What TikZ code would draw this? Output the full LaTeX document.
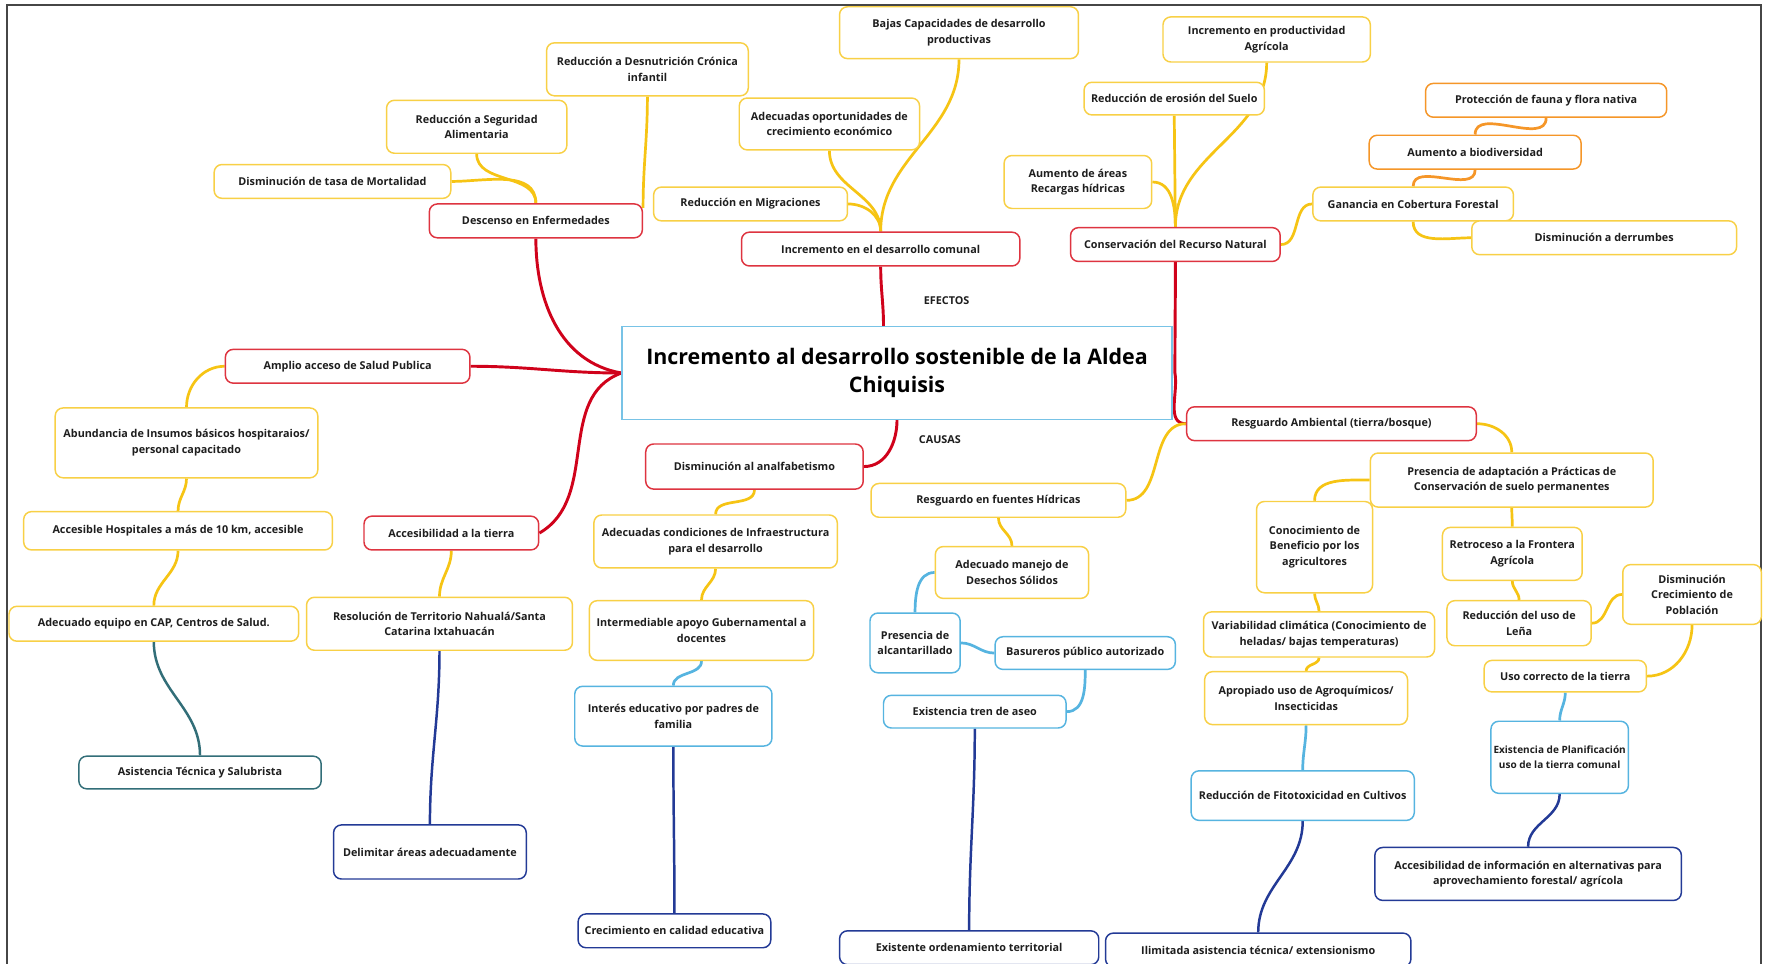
\documentclass[tikz,border=0pt]{standalone}
\usepackage{fontspec}
\setmainfont{Open Sans}
\usetikzlibrary{calc}
\definecolor{redline}{RGB}{208,2,27}
\definecolor{redbox}{RGB}{222,52,64}
\definecolor{yelline}{RGB}{246,196,20}
\definecolor{yelbox}{RGB}{248,208,70}
\definecolor{orgline}{RGB}{245,150,40}
\definecolor{ltblue}{RGB}{86,180,224}
\definecolor{dkblue}{RGB}{35,58,150}
\definecolor{tealc}{RGB}{50,110,120}
\definecolor{titlebd}{RGB}{120,195,230}
\definecolor{ink}{RGB}{30,30,30}
\definecolor{framec}{RGB}{70,70,70}
\pgfdeclarelayer{bg}
\pgfsetlayers{bg,main}
\tikzset{
  box/.style={draw, fill=white, rounded corners=7pt, line width=1.3pt, align=center,
    inner sep=2pt, text=ink, font=\bfseries\fontsize{9.6}{13.8}\selectfont},
  redn/.style={box, draw=redbox},
  yeln/.style={box, draw=yelbox},
  orgn/.style={box, draw=orgline},
  lbn/.style={box, draw=ltblue},
  dbn/.style={box, draw=dkblue},
  tln/.style={box, draw=tealc},
  sz/.style 2 args={minimum width=#1pt, minimum height=#2pt},
  rl/.style={draw=redline, line width=2.6pt},
  yl/.style={draw=yelline, line width=2.4pt},
  ol/.style={draw=orgline, line width=2.4pt},
  bl/.style={draw=ltblue, line width=2.4pt},
  dl/.style={draw=dkblue, line width=2.2pt},
  tl/.style={draw=tealc, line width=2.2pt},
}
\begin{document}
\begin{tikzpicture}[x=1pt, y=-1pt]
\useasboundingbox (0,0) rectangle (1568,855);

% central topic
\node[draw=titlebd, fill=white, line width=1.2pt, minimum width=488pt, minimum height=82pt,
  align=center, text=black, font=\bfseries\fontsize{19}{25}\selectfont] (title) at (796,331)
  {Incremento al desarrollo sostenible de la Aldea\\Chiquisis};
\node[text=ink, font=\bfseries\fontsize{9.6}{11}\selectfont] (efe) at (840,267) {EFECTOS};
\node[text=ink, font=\bfseries\fontsize{9.6}{11}\selectfont] (cau) at (834,390) {CAUSAS};

% main branches
\node[redn, sz={189}{30}] (desc) at (475.5,196) {Descenso en Enfermedades};
\node[redn, sz={247}{30}] (incr) at (781.5,221) {Incremento en el desarrollo comunal};
\node[redn, sz={186}{30}] (cons) at (1043,217) {Conservación del Recurso Natural};
\node[redn, sz={217}{30}] (amplio) at (308.5,325) {Amplio acceso de Salud Publica};
\node[redn, sz={155}{30}] (acces) at (400.5,473) {Accesibilidad a la tierra};
\node[redn, sz={193}{40}] (analf) at (669.5,414) {Disminución al analfabetismo};
\node[redn, sz={257}{30}] (resgA) at (1181.5,376) {Resguardo Ambiental (tierra/bosque)};

% effects
\node[yeln, sz={179}{47}] (desnut) at (574.5,61.5) {Reducción a Desnutrición Crónica\\infantil};
\node[yeln, sz={160}{47}] (segur) at (423,112.5) {Reducción a Seguridad\\Alimentaria};
\node[yeln, sz={210}{30}] (mort) at (295,161) {Disminución de tasa de Mortalidad};
\node[yeln, sz={212}{46}] (bajas) at (851,29) {Bajas Capacidades de desarrollo\\productivas};
\node[yeln, sz={160}{46}] (oport) at (736,110) {Adecuadas oportunidades de\\crecimiento económico};
\node[yeln, sz={172}{30}] (migr) at (666,181) {Reducción en Migraciones};
\node[yeln, sz={184}{40}] (prodag) at (1124,35) {Incremento en productividad\\Agrícola};
\node[yeln, sz={160}{29}] (eros) at (1042,87.5) {Reducción de erosión del Suelo};
\node[yeln, sz={131}{47}] (recarg) at (956.5,161.5) {Aumento de áreas\\Recargas hídricas};
\node[orgn, sz={214}{30}] (protec) at (1372,89) {Protección de fauna y flora nativa};
\node[orgn, sz={188}{30}] (biodiv) at (1309,135) {Aumento a biodiversidad};
\node[yeln, sz={178}{30}] (ganan) at (1254,181) {Ganancia en Cobertura Forestal};
\node[yeln, sz={235}{30}] (derrum) at (1423.5,211) {Disminución a derrumbes};

% causes
\node[yeln, sz={233}{62}] (abund) at (165.5,393) {Abundancia de Insumos básicos hospitaraios/\\personal capacitado};
\node[yeln, sz={274}{34}] (hosp) at (158,471) {Accesible Hospitales a más de 10 km, accesible};
\node[yeln, sz={257}{31}] (equipo) at (136.5,553.5) {Adecuado equipo en CAP, Centros de Salud.};
\node[tln, sz={215}{29}] (asist) at (177.5,685.5) {Asistencia Técnica y Salubrista};
\node[yeln, sz={236}{47}] (resol) at (390,553.5) {Resolución de Territorio Nahualá/Santa\\Catarina Ixtahuacán};
\node[dbn, sz={171}{48}] (delim) at (381.5,756) {Delimitar áreas adecuadamente};
\node[yeln, sz={216}{47}] (infra) at (635,480.5) {Adecuadas condiciones de Infraestructura\\para el desarrollo};
\node[yeln, sz={199}{53}] (interm) at (622.5,559.5) {Intermediable apoyo Gubernamental a\\docentes};
\node[lbn, sz={175}{53}] (interes) at (597.5,635.5) {Interés educativo por padres de\\familia};
\node[dbn, sz={171}{30}] (calidad) at (598.5,826) {Crecimiento en calidad educativa};
\node[yeln, sz={226}{30}] (fuentes) at (886,444) {Resguardo en fuentes Hídricas};
\node[yeln, sz={136}{46}] (desech) at (898,508) {Adecuado manejo de\\Desechos Sólidos};
\node[lbn, sz={80}{53}] (alcant) at (812,570.5) {Presencia de\\alcantarillado};
\node[lbn, sz={160}{29}] (basur) at (963,579.5) {Basureros público autorizado};
\node[lbn, sz={162}{29}] (tren) at (865,631.5) {Existencia tren de aseo};
\node[dbn, sz={230}{30}] (ordena) at (860,841) {Existente ordenamiento territorial};
\node[yeln, sz={251}{48}] (pract) at (1341.5,426) {Presencia de adaptación a Prácticas de\\Conservación de suelo permanentes};
\node[yeln, sz={103}{81}] (conoc) at (1166.5,485.5) {Conocimiento de\\Beneficio por los\\agricultores};
\node[yeln, sz={124}{47}] (retro) at (1342,491.5) {Retroceso a la Frontera\\Agrícola};
\node[yeln, sz={123}{53}] (poblac) at (1501.5,527.5) {Disminución\\Crecimiento de\\Población};
\node[yeln, sz={128}{40}] (lena) at (1348,553) {Reducción del uso de\\Leña};
\node[yeln, sz={205}{40}] (variab) at (1170.5,563) {Variabilidad climática (Conocimiento de\\heladas/ bajas temperaturas)};
\node[yeln, sz={144}{28}] (usocor) at (1389,600) {Uso correcto de la tierra};
\node[yeln, sz={180}{47}] (agroq) at (1159,619.5) {Apropiado uso de Agroquímicos/\\Insecticidas};
\node[lbn, sz={198}{44}] (fito) at (1156,706) {Reducción de Fitotoxicidad en Cultivos};
\node[dbn, sz={271}{30}] (ilimit) at (1116.5,843) {Ilimitada asistencia técnica/ extensionismo};
\node[lbn, sz={122}{64}, inner xsep=1pt, font=\bfseries\fontsize{8.9}{13.8}\selectfont] (planif) at (1384,672) {Existencia de Planificación\\uso de la tierra comunal};
\node[dbn, sz={272}{47}] (infoalt) at (1356,775.5) {Accesibilidad de información en alternativas para\\aprovechamiento forestal/ agrícola};

\begin{pgfonlayer}{bg}
\fill[white] (0,0) rectangle (1568,855);
\draw[framec, line width=1.6pt] (6.5,855) -- (6.5,4.5) -- (1562.5,4.5) -- (1562.5,855);

% branches from the central topic
\draw[rl] (desc.south) to[out=-90,in=170] (title.west);
\draw[rl] (amplio.east) to[out=0,in=180] (title.west);
\draw[rl] (acces.east) to[out=30,in=200] (title.west);
\draw[rl] ([xshift=-12pt]title.north) to[out=90,in=-90] (incr.south);
\draw[rl] ([xshift=2pt]title.east) to[out=90,in=-90] (cons.south);
\draw[rl] ([xshift=2pt]title.east) to[out=-80,in=180] (resgA.west);
\draw[rl] (title.south) to[out=-90,in=0] (analf.east);

% effects
\draw[yl] (desc.north) to[out=90,in=-90] (segur.south);
\draw[yl] (desc.north) to[out=90,in=0] (mort.east);
\draw[yl] (desnut.south) to[out=-90,in=90] ([yshift=-4pt]desc.north east);
\draw[yl] (incr.north) to[out=90,in=0] (migr.east);
\draw[yl] (incr.north) to[out=90,in=-90] (oport.south);
\draw[yl] (incr.north) to[out=90,in=-90] (bajas.south);
\draw[yl] (cons.north) to[out=90,in=0] (recarg.east);
\draw[yl] (cons.north) -- (eros.south);
\draw[yl] (cons.north) to[out=90,in=-90] (prodag.south);
\draw[yl] (cons.east) to[out=0,in=180] (ganan.west);
\draw[yl] (ganan.south) to[out=-90,in=180] (derrum.west);
\draw[ol] (ganan.north) to[out=90,in=-90] (biodiv.south);
\draw[ol] (biodiv.north) to[out=90,in=-90] (protec.south);

% causes
\draw[yl] (amplio.west) to[out=180,in=90] (abund.north);
\draw[yl] (abund.south) to[out=-90,in=90] (hosp.north);
\draw[yl] (hosp.south) to[out=-90,in=90] (equipo.north);
\draw[tl] (equipo.south) to[out=-90,in=90] (asist.north);
\draw[yl] (acces.south) to[out=-90,in=90] (resol.north);
\draw[dl] (resol.south) to[out=-90,in=90] (delim.north);
\draw[yl] (analf.south) to[out=-90,in=90] (infra.north);
\draw[yl] (infra.south) to[out=-90,in=90] (interm.north);
\draw[bl] (interm.south) to[out=-90,in=90] (interes.north);
\draw[dl] (interes.south) to[out=-90,in=90] (calidad.north);
\draw[yl] (resgA.west) to[out=180,in=0] (fuentes.east);
\draw[yl] (fuentes.south) to[out=-90,in=90] (desech.north);
\draw[bl] (desech.west) to[out=180,in=90] (alcant.north);
\draw[bl] (alcant.east) to[out=0,in=180] (basur.west);
\draw[bl] (basur.south) to[out=-90,in=0] (tren.east);
\draw[dl] (tren.south) to[out=-90,in=90] (ordena.north);
\draw[yl] (resgA.east) to[out=0,in=90] (pract.north);
\draw[yl] (pract.west) to[out=180,in=90] (conoc.north);
\draw[yl] (pract.south) to[out=-90,in=90] (retro.north);
\draw[yl] (retro.south) to[out=-90,in=90] (lena.north);
\draw[yl] (lena.east) to[out=0,in=180] (poblac.west);
\draw[yl] (poblac.south) to[out=-90,in=0] (usocor.east);
\draw[bl] (usocor.south) to[out=-90,in=90] (planif.north);
\draw[dl] (planif.south) to[out=-90,in=90] (infoalt.north);
\draw[yl] (conoc.south) to[out=-90,in=90] (variab.north);
\draw[yl] (variab.south) to[out=-90,in=90] (agroq.north);
\draw[bl] (agroq.south) to[out=-90,in=90] (fito.north);
\draw[dl] (fito.south) to[out=-90,in=90] (ilimit.north);
\end{pgfonlayer}
\end{tikzpicture}
\end{document}
